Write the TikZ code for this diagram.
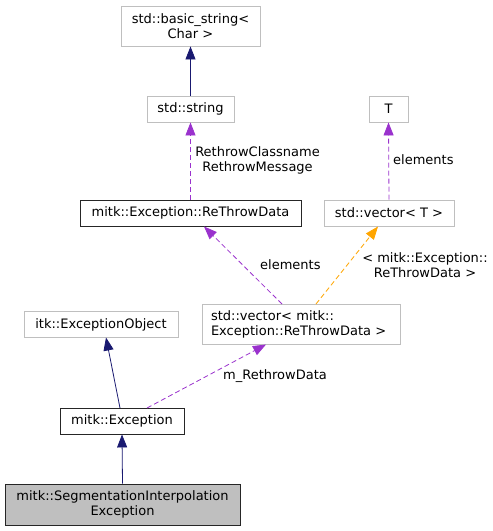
\documentclass[tikz,border=0pt]{standalone}
\usepackage{fontspec}
\setmainfont{DejaVu Sans}
\usetikzlibrary{arrows.meta}
\definecolor{navy}{HTML}{191970}
\definecolor{orchid}{HTML}{9A32CD}
\definecolor{orng}{HTML}{FFA500}
\definecolor{lgray}{HTML}{BFBFBF}
\definecolor{dgray}{HTML}{404040}
\tikzset{
  fnt/.style={font=\fontsize{13}{15}\selectfont},
  box/.style={draw=lgray, line width=0.9pt, fill=white, inner sep=0pt, align=center, fnt},
  bbox/.style={box, draw=black!85},
  tip/.style={-{Triangle[length=13pt,width=10pt]}},
  inh/.style={draw=navy, line width=0.8pt, tip},
  use/.style={draw=orchid, line width=0.8pt, dash pattern=on 5pt off 3pt, tip},
  tmpl/.style={draw=orng, line width=0.8pt, dash pattern=on 5pt off 3pt, tip},
  lbl/.style={fnt, align=center, inner sep=0pt},
}
\begin{document}
\begin{tikzpicture}[x=1pt,y=-1pt]
\useasboundingbox (0,0) rectangle (493,531);
\node[box, minimum width=139pt, minimum height=40pt] (bs) at (190.5,26) {std::basic\_string<\\Char >};
\node[box, minimum width=87pt, minimum height=26pt] (str) at (190.5,109) {std::string};
\node[box, minimum width=39pt, minimum height=26pt] (T) at (388.5,109) {T};
\node[bbox, minimum width=221pt, minimum height=26pt] (rtd) at (190.5,213) {mitk::Exception::ReThrowData};
\node[box, minimum width=198pt, minimum height=40pt, align=left, text width=180pt] (vR) at (301,324.5) {std::vector< mitk::\\Exception::ReThrowData >};
\node[box, minimum width=130pt, minimum height=26pt] (vT) at (389,213) {std::vector< T >};
\node[box, minimum width=154pt, minimum height=26pt] (itk) at (101,324.5) {itk::ExceptionObject};
\node[bbox, minimum width=124pt, minimum height=26pt] (me) at (122,421) {mitk::Exception};
\node[bbox, fill=lgray, minimum width=235pt, minimum height=41pt] (seg) at (122.5,504.5) {mitk::SegmentationInterpolation\\Exception};

\draw[inh] (str.north) -- (bs.south);
\draw[use] (rtd.north) -- (str.south);
\node[lbl] (l1) at (257.5,160) {RethrowClassname\\RethrowMessage};
\draw[use] (vT.north) -- (T.south);
\node[lbl, anchor=west] (l2) at (393,160) {elements};
\coordinate (vRa) at (282,304);
\coordinate (rtdb) at (204,226.5);
\draw[use] (vRa) -- (rtdb);
\node[lbl, anchor=west] (l3) at (260,265) {elements};
\coordinate (vRb) at (316,304);
\coordinate (vTb) at (378,226.5);
\draw[tmpl] (vRb) -- (vTb);
\node[lbl] (l4) at (425,265) {< mitk::Exception::\\ReThrowData >};
\coordinate (mea) at (120,408);
\coordinate (itkb) at (106,337.5);
\draw[inh] (mea) -- (itkb);
\coordinate (meb) at (147,408);
\coordinate (vRc) at (266,344.5);
\draw[use] (meb) -- (vRc);
\node[lbl, anchor=west] (l5) at (223,376) {m\_RethrowData};
\draw[inh] (seg.north) -- (me.south);
\end{tikzpicture}
\end{document}
